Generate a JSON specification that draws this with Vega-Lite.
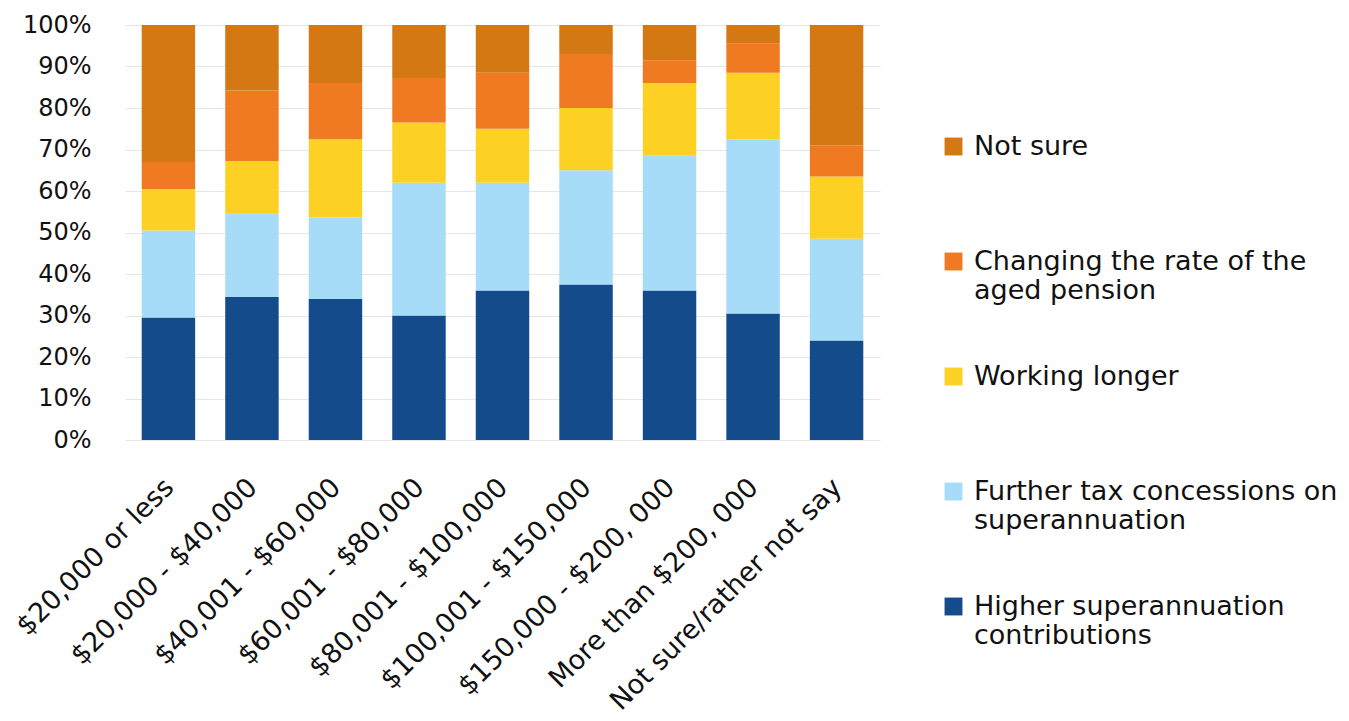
{
  "$schema": "https://vega.github.io/schema/vega-lite/v6.json",
  "autosize": "none",
  "width": 755,
  "height": 415,
  "padding": {"left": 125, "top": 25, "right": 469, "bottom": 281},
  "background": "white",
  "data": {
    "values": [
      {"income": "$20,000 or less", "option": "Higher superannuation contributions", "value": 29.5},
      {"income": "$20,000 or less", "option": "Further tax concessions on superannuation", "value": 21},
      {"income": "$20,000 or less", "option": "Working longer", "value": 10},
      {"income": "$20,000 or less", "option": "Changing the rate of the aged pension", "value": 6.5},
      {"income": "$20,000 or less", "option": "Not sure", "value": 33},
      {"income": "$20,000 - $40,000", "option": "Higher superannuation contributions", "value": 34.5},
      {"income": "$20,000 - $40,000", "option": "Further tax concessions on superannuation", "value": 20},
      {"income": "$20,000 - $40,000", "option": "Working longer", "value": 12.7},
      {"income": "$20,000 - $40,000", "option": "Changing the rate of the aged pension", "value": 17},
      {"income": "$20,000 - $40,000", "option": "Not sure", "value": 15.8},
      {"income": "$40,001 - $60,000", "option": "Higher superannuation contributions", "value": 34},
      {"income": "$40,001 - $60,000", "option": "Further tax concessions on superannuation", "value": 19.7},
      {"income": "$40,001 - $60,000", "option": "Working longer", "value": 18.8},
      {"income": "$40,001 - $60,000", "option": "Changing the rate of the aged pension", "value": 13.5},
      {"income": "$40,001 - $60,000", "option": "Not sure", "value": 14},
      {"income": "$60,001 - $80,000", "option": "Higher superannuation contributions", "value": 30},
      {"income": "$60,001 - $80,000", "option": "Further tax concessions on superannuation", "value": 32},
      {"income": "$60,001 - $80,000", "option": "Working longer", "value": 14.5},
      {"income": "$60,001 - $80,000", "option": "Changing the rate of the aged pension", "value": 10.7},
      {"income": "$60,001 - $80,000", "option": "Not sure", "value": 12.8},
      {"income": "$80,001 - $100,000", "option": "Higher superannuation contributions", "value": 36},
      {"income": "$80,001 - $100,000", "option": "Further tax concessions on superannuation", "value": 26},
      {"income": "$80,001 - $100,000", "option": "Working longer", "value": 13},
      {"income": "$80,001 - $100,000", "option": "Changing the rate of the aged pension", "value": 13.5},
      {"income": "$80,001 - $100,000", "option": "Not sure", "value": 11.5},
      {"income": "$100,001 - $150,000", "option": "Higher superannuation contributions", "value": 37.5},
      {"income": "$100,001 - $150,000", "option": "Further tax concessions on superannuation", "value": 27.5},
      {"income": "$100,001 - $150,000", "option": "Working longer", "value": 15},
      {"income": "$100,001 - $150,000", "option": "Changing the rate of the aged pension", "value": 13},
      {"income": "$100,001 - $150,000", "option": "Not sure", "value": 7},
      {"income": "$150,000 - $200, 000", "option": "Higher superannuation contributions", "value": 36},
      {"income": "$150,000 - $200, 000", "option": "Further tax concessions on superannuation", "value": 32.5},
      {"income": "$150,000 - $200, 000", "option": "Working longer", "value": 17.5},
      {"income": "$150,000 - $200, 000", "option": "Changing the rate of the aged pension", "value": 5.5},
      {"income": "$150,000 - $200, 000", "option": "Not sure", "value": 8.5},
      {"income": "More than $200, 000", "option": "Higher superannuation contributions", "value": 30.5},
      {"income": "More than $200, 000", "option": "Further tax concessions on superannuation", "value": 42},
      {"income": "More than $200, 000", "option": "Working longer", "value": 16},
      {"income": "More than $200, 000", "option": "Changing the rate of the aged pension", "value": 7},
      {"income": "More than $200, 000", "option": "Not sure", "value": 4.5},
      {"income": "Not sure/rather not say", "option": "Higher superannuation contributions", "value": 24},
      {"income": "Not sure/rather not say", "option": "Further tax concessions on superannuation", "value": 24.5},
      {"income": "Not sure/rather not say", "option": "Working longer", "value": 15},
      {"income": "Not sure/rather not say", "option": "Changing the rate of the aged pension", "value": 7.5},
      {"income": "Not sure/rather not say", "option": "Not sure", "value": 29}
    ]
  },
  "transform": [
    {"calculate": "indexof(['Higher superannuation contributions','Further tax concessions on superannuation','Working longer','Changing the rate of the aged pension','Not sure'], datum.option)", "as": "rank"}
  ],
  "mark": {"type": "bar"},
  "encoding": {
    "x": {
      "field": "income",
      "type": "nominal",
      "sort": null,
      "scale": {"paddingInner": 0.36, "paddingOuter": 0.2},
      "axis": {
        "title": null,
        "labelAngle": -45,
        "labelAlign": "right",
        "labelBaseline": "middle",
        "labelPadding": 43,
        "labelOffset": 1,
        "labelFontSize": 27,
        "labelFont": "DejaVu Sans",
        "labelColor": "#111",
        "labelLimit": 500,
        "ticks": false,
        "domain": false
      }
    },
    "y": {
      "field": "value",
      "type": "quantitative",
      "stack": "normalize",
      "scale": {"domain": [0, 1]},
      "axis": {
        "title": null,
        "values": [0, 0.1, 0.2, 0.3, 0.4, 0.5, 0.6, 0.7, 0.8, 0.9, 1],
        "format": ".0%",
        "labelFontSize": 24,
        "labelFont": "DejaVu Sans",
        "labelColor": "#111",
        "labelPadding": 34,
        "ticks": false,
        "domain": false,
        "grid": true,
        "gridColor": "#e6e6e6",
        "gridWidth": 1
      }
    },
    "color": {
      "field": "option",
      "type": "nominal",
      "scale": {
        "domain": ["Not sure", "Changing the rate of the aged pension", "Working longer", "Further tax concessions on superannuation", "Higher superannuation contributions"],
        "range": ["#D47814", "#F07A22", "#FCD124", "#A6DCF7", "#144B8B"]
      },
      "legend": {
        "title": null,
        "orient": "none",
        "legendX": 815,
        "legendY": 108,
        "symbolType": "square",
        "symbolSize": 320,
        "symbolStrokeWidth": 0,
        "labelFontSize": 27,
        "labelFont": "DejaVu Sans",
        "labelColor": "#111",
        "labelLimit": 600,
        "labelOffset": 7,
        "labelBaseline": "middle",
        "rowPadding": 58,
        "padding": 0,
        "labelExpr": "datum.label == 'Changing the rate of the aged pension' ? ['Changing the rate of the', 'aged pension'] : datum.label == 'Further tax concessions on superannuation' ? ['Further tax concessions on', 'superannuation'] : datum.label == 'Higher superannuation contributions' ? ['Higher superannuation', 'contributions'] : [datum.label, '']"
      }
    },
    "order": {"field": "rank", "type": "quantitative", "sort": "ascending"}
  },
  "config": {
    "view": {"stroke": null}
  }
}
